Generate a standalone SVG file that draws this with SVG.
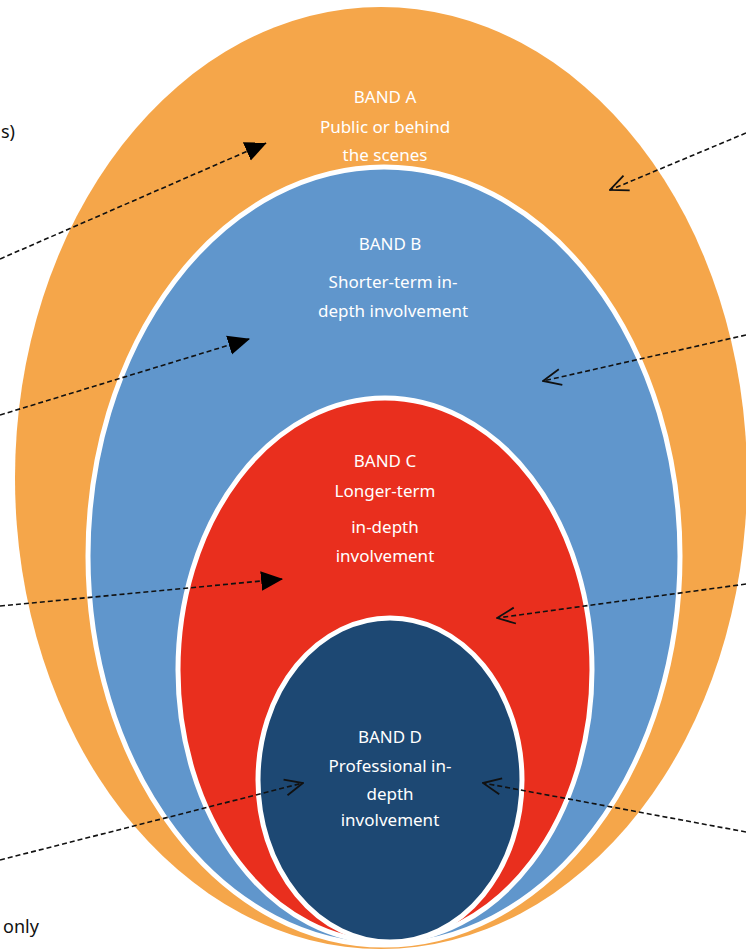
<svg xmlns="http://www.w3.org/2000/svg" width="746" height="952" viewBox="0 0 746 952">
<style>
.band{stroke:#fff;stroke-width:5}
.lbl{font-family:"Noto Sans","Open Sans",sans-serif;font-size:17px;fill:#fff;text-anchor:middle}
.side{font-family:"Noto Sans","Open Sans",sans-serif;font-size:18px;fill:#111}
.con{fill:none;stroke:#111;stroke-width:1.6;stroke-dasharray:5 3}
</style>
<defs>
<marker id="fa" viewBox="0 0 20 20" refX="19" refY="10" markerWidth="22" markerHeight="22" orient="auto" markerUnits="userSpaceOnUse"><path d="M0,1 L20,10 L0,19 z" fill="#000"/></marker>
<marker id="oa" viewBox="0 0 20 20" refX="19" refY="10" markerWidth="20" markerHeight="20" orient="auto" markerUnits="userSpaceOnUse"><path d="M1,2 L19,10 L1,18" fill="none" stroke="#111" stroke-width="1.8"/></marker>
</defs>
<rect width="746" height="952" fill="#fff"/>
<g id="bandA">
<ellipse cx="381" cy="478" rx="366" ry="471" fill="#F5A64A"/>
<text class="lbl" x="385" y="103">BAND A</text>
<text class="lbl" x="385" y="133">Public or behind</text>
<text class="lbl" x="385" y="161">the scenes</text>
</g>
<g id="bandB">
<ellipse class="band" cx="384" cy="556" rx="296" ry="389" fill="#6096CC"/>
<text class="lbl" x="390" y="250">BAND B</text>
<text class="lbl" x="393" y="288">Shorter-term in-</text>
<text class="lbl" x="393" y="317">depth involvement</text>
</g>
<g id="bandC">
<ellipse class="band" cx="385" cy="670" rx="207" ry="272" fill="#E92F1E"/>
<text class="lbl" x="385" y="467">BAND C</text>
<text class="lbl" x="385" y="497">Longer-term</text>
<text class="lbl" x="385" y="533">in-depth</text>
<text class="lbl" x="385" y="562">involvement</text>
</g>
<g id="bandD">
<ellipse class="band" cx="390" cy="780" rx="132" ry="162" fill="#1D4873"/>
<text class="lbl" x="390" y="743">BAND D</text>
<text class="lbl" x="390" y="772">Professional in-</text>
<text class="lbl" x="390" y="800">depth</text>
<text class="lbl" x="390" y="826">involvement</text>
</g>
<g id="sideLabels">
<text class="side" x="1" y="138">s)</text>
<text class="side" x="3" y="933">only</text>
</g>
<g id="connectors">
<line class="con" x1="0" y1="259" x2="266" y2="143" marker-end="url(#fa)"/>
<line class="con" x1="0" y1="415" x2="249" y2="339" marker-end="url(#fa)"/>
<line class="con" x1="0" y1="606" x2="282" y2="579" marker-end="url(#fa)"/>
<line class="con" x1="0" y1="860" x2="303" y2="783" marker-end="url(#oa)"/>
<line class="con" x1="746" y1="133" x2="610" y2="190" marker-end="url(#oa)"/>
<line class="con" x1="746" y1="335" x2="543" y2="381" marker-end="url(#oa)"/>
<line class="con" x1="746" y1="584" x2="497" y2="618" marker-end="url(#oa)"/>
<line class="con" x1="746" y1="832" x2="483" y2="783" marker-end="url(#oa)"/>
</g>
</svg>
